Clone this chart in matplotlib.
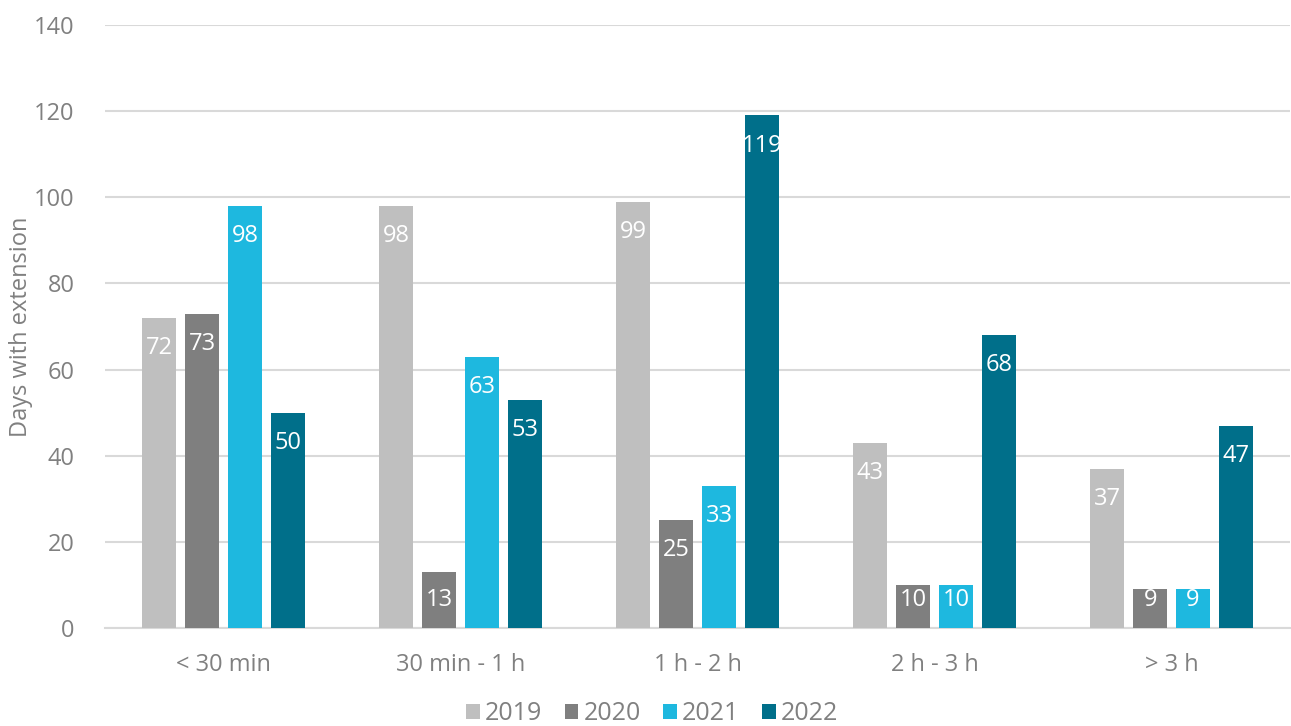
import matplotlib
matplotlib.use("Agg")
import matplotlib.pyplot as plt
import numpy as np

categories = ["< 30 min", "30 min - 1 h", "1 h - 2 h", "2 h - 3 h", "> 3 h"]
years = ["2019", "2020", "2021", "2022"]
values_2019 = [72, 98, 99, 43, 37]
values_2020 = [73, 13, 25, 10, 9]
values_2021 = [98, 63, 33, 10, 9]
values_2022 = [50, 53, 119, 68, 47]
colors = ["#bfbfbf", "#7f7f7f", "#1eb8df", "#006f8a"]
yticks = [0, 20, 40, 60, 80, 100, 120, 140]

plt.rcParams["font.family"] = ["Open Sans", "DejaVu Sans"]
text_grey = "#808080"

fig = plt.figure(figsize=(12.91, 7.26), dpi=100)
ax = fig.add_axes([0.0813, 0.135, 0.918, 0.8305])

series = [values_2019, values_2020, values_2021, values_2022]
x = np.arange(len(categories))
width = 0.143
step = 0.181
offsets = (np.arange(len(series)) - 1.5) * step

for vals, off, col, yr in zip(series, offsets, colors, years):
    bars = ax.bar(x + off, vals, width=width, color=col, label=yr, zorder=3)
    for b, v in zip(bars, vals):
        ypos = max(v - 7.0, 6.5)
        ax.text(b.get_x() + b.get_width() / 2, ypos, str(v), ha="center",
                va="center", color="white", fontsize=17, zorder=4)

ax.set_xlim(-0.5, len(categories) - 0.5)
ax.set_ylim(0, 140)
ax.set_yticks(yticks)
ax.set_xticks(x)
ax.set_xticklabels(categories)
ax.yaxis.grid(True, color="#d9d9d9", linewidth=1.5, zorder=0)
ax.set_axisbelow(True)
for s in ["top", "right", "left"]:
    ax.spines[s].set_visible(False)
ax.spines["bottom"].set_color("#d9d9d9")
ax.spines["bottom"].set_linewidth(1.5)
ax.tick_params(axis="both", length=0, labelsize=17, colors=text_grey)
ax.tick_params(axis="y", pad=22)
ax.tick_params(axis="x", pad=18)
ax.set_ylabel("Days with extension", fontsize=17, color=text_grey)
ax.yaxis.set_label_coords(-0.061, 0.5)

leg = fig.legend(*ax.get_legend_handles_labels(), loc="center",
                 bbox_to_anchor=(0.505, 0.017), ncol=4, frameon=False,
                 fontsize=18, handlelength=0.55, handleheight=0.55,
                 handletextpad=0.2, columnspacing=0.9)
for t in leg.get_texts():
    t.set_color(text_grey)

fig.savefig("out.png", dpi=100)
